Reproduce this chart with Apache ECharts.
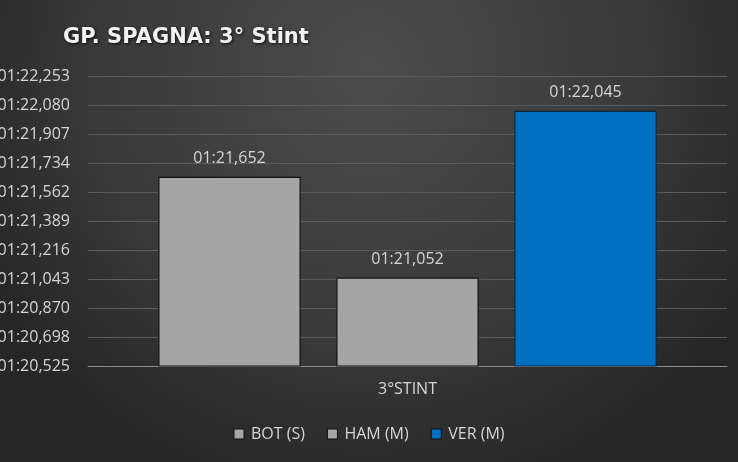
<!DOCTYPE html>
<html>
<head>
<meta charset="utf-8">
<script src="https://cdn.jsdelivr.net/npm/echarts@6/dist/echarts.min.js"></script>
<style>
  html, body {margin: 0; padding: 0; background: #333;}
  #chart {width: 738px; height: 462px;}
</style>
</head>
<body>
<div id="chart"></div>
<script>
// lap times in seconds (1:21,652 -> 81.652)
const categories = ['3°STINT'];
const drivers = ['BOT (S)', 'HAM (M)', 'VER (M)'];
const lapTimes = [81.652, 81.052, 82.045];
const barColors = ['#a6a6a6', '#a6a6a6', '#0070c0'];

// y axis: 01:20,525 .. 01:22,253 in steps of 0,1728 s
const yMin = 80.5248;
const yMax = 82.2528;
const yStep = 0.1728;

const fontFam = '"Open Sans", "Liberation Sans", sans-serif';
const txtColor = '#d6d6d6';

function fmtLap(v) {
	let mins = Math.floor(v / 60);
	let secs = v - mins * 60;
	let s = Math.floor(secs);
	let ms = Math.round((secs - s) * 1000);
	if (ms === 1000) { ms = 0; s += 1; }
	return String(mins).padStart(2, '0') + ':' + String(s).padStart(2, '0') + ',' + String(ms).padStart(3, '0');
}

let myChart = echarts.init(document.getElementById('chart'));

let series = drivers.map((name, i) => ({
	name: name,
	type: 'bar',
	data: [lapTimes[i]],
	barGap: '25%',
	barCategoryGap: '22%',
	itemStyle: {
		color: barColors[i],
		borderColor: i === 2 ? '#0b2a44' : '#111',
		borderWidth: 1.2
	},
	label: {
		show: true,
		position: 'top',
		distance: 10,
		color: txtColor,
		fontFamily: fontFam,
		fontSize: 16,
		formatter: p => fmtLap(p.value)
	}
}));

myChart.setOption({
	backgroundColor: {
		type: 'radial', x: 0.5, y: 0.15, r: 0.95,
		colorStops: [
			{offset: 0, color: '#4c4c4c'},
			{offset: 0.6, color: '#3a3a3a'},
			{offset: 1, color: '#262626'}
		]
	},
	title: {
		text: 'GP. SPAGNA: 3° Stint',
		left: 58,
		top: 22,
		textStyle: {
			color: '#f2f2f2',
			fontFamily: '"DejaVu Sans", sans-serif',
			fontWeight: 'bold',
			fontSize: 21,
			textShadowColor: 'rgba(0,0,0,0.8)',
			textShadowBlur: 3,
			textShadowOffsetX: 1,
			textShadowOffsetY: 1
		}
	},
	legend: {
		data: drivers,
		bottom: 15,
		left: 'center',
		itemWidth: 10,
		itemHeight: 10,
		itemGap: 22,
		icon: 'rect',
		textStyle: {color: txtColor, fontFamily: fontFam, fontSize: 16, padding: [0, 0, 0, 2]},
		itemStyle: {borderColor: '#111', borderWidth: 1}
	},
	grid: {
		left: 88,
		right: 11,
		top: 76,
		bottom: 96,
		containLabel: false,
		outerBoundsMode: 'none'
	},
	xAxis: {
		type: 'category',
		data: categories,
		axisLine: {lineStyle: {color: '#8c8c8c', width: 1}},
		axisTick: {show: false},
		axisLabel: {color: txtColor, fontFamily: fontFam, fontSize: 16, margin: 15}
	},
	yAxis: {
		type: 'value',
		min: yMin,
		max: yMax,
		interval: yStep,
		axisLine: {show: false},
		axisTick: {show: false},
		splitLine: {lineStyle: {color: '#5c5c5c', width: 1}},
		axisLabel: {
			color: txtColor,
			fontFamily: fontFam,
			fontSize: 16,
			margin: 18,
			formatter: v => fmtLap(v)
		}
	},
	series: series
});
</script>
</body>
</html>
